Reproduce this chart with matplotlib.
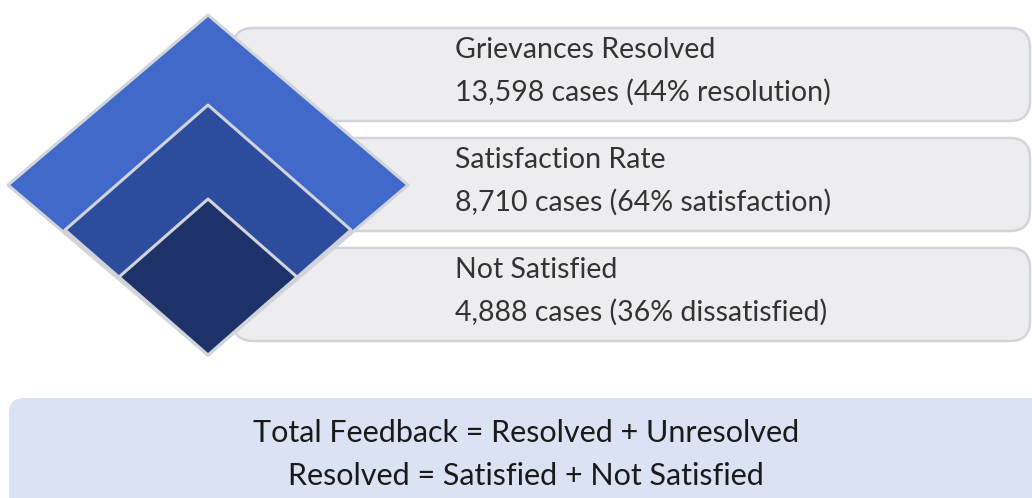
import matplotlib.pyplot as plt
from matplotlib.patches import Polygon, FancyBboxPatch

# data
titles = ["Grievances Resolved", "Satisfaction Rate", "Not Satisfied"]
cases = [13598, 8710, 4888]
pcts = [44, 64, 36]
pct_words = ["resolution", "satisfaction", "dissatisfied"]
formulas = ["Total Feedback = Resolved + Unresolved",
            "Resolved = Satisfied + Not Satisfied"]

layer_colors = ["#4169c9", "#2c4c9e", "#1e326a"]
edge_gray = "#d1d4db"

W, H = 1032, 498
fig = plt.figure(figsize=(W / 100, H / 100), dpi=100)
ax = fig.add_axes([0, 0, 1, 1])
ax.set_xlim(0, W)
ax.set_ylim(H, 0)
ax.axis("off")

font = "Lato"

# cards on the right
card_tops = [28, 138, 248]
card_h = 93
for i, top in enumerate(card_tops):
    card = FancyBboxPatch((233, top), 797, card_h,
                          boxstyle="round,pad=0,rounding_size=20",
                          fc="#ededf0", ec=edge_gray, lw=1.8, zorder=1)
    ax.add_patch(card)
    ax.text(455, top + 22, titles[i], fontsize=20.5, color="#333333",
            family=font, va="center", ha="left", zorder=5)
    ax.text(455, top + 64, f"{cases[i]:,} cases ({pcts[i]}% {pct_words[i]})",
            fontsize=20.5, color="#333333", family=font,
            va="center", ha="left", zorder=5)

# nested diamonds sharing the bottom vertex
cx, bottom = 208, 355
sizes = [(200, 170), (143, 125), (89, 78)]
for (hw, hh), col in zip(sizes, layer_colors):
    pts = [(cx, bottom - 2 * hh), (cx + hw, bottom - hh),
           (cx, bottom), (cx - hw, bottom - hh)]
    ax.add_patch(Polygon(pts, closed=True, fc=col, ec=edge_gray,
                         lw=2.2, joinstyle="round", zorder=3))

# formula box at the bottom
box = FancyBboxPatch((9, 398), 1060, 130,
                     boxstyle="round,pad=0,rounding_size=15",
                     fc="#dae3f3", ec="none", zorder=1)
ax.add_patch(box)
ax.text(526, 433, formulas[0], fontsize=22, color="#1a1a1a", family=font,
        ha="center", va="center")
ax.text(526, 476, formulas[1], fontsize=22, color="#1a1a1a", family=font,
        ha="center", va="center")

fig.savefig("out.png", dpi=100)
